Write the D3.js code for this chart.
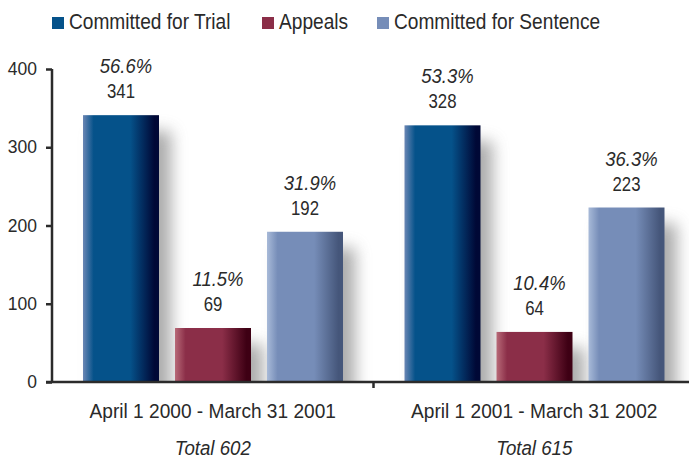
<!DOCTYPE html>
<html>
<head>
<meta charset="utf-8">
<script src="https://cdn.jsdelivr.net/npm/d3@7"></script>
<style>
  body { margin: 0; background: #fff; }
  svg { display: block; font-family: "Liberation Sans", Arial, sans-serif; }
  .domain, .tick line { stroke: #2b2b2b; }
</style>
</head>
<body>
<div id="Chart"></div>
<script>
// Data
const periods = ["April 1 2000 - March 31 2001", "April 1 2001 - March 31 2002"];
const totals = ["Total 602", "Total 615"];
const seriesNames = ["Committed for Trial", "Appeals", "Committed for Sentence"];
const trialValues = [341, 328];
const appealValues = [69, 64];
const sentenceValues = [192, 223];
const trialPercents = ["56.6%", "53.3%"];
const appealPercents = ["11.5%", "10.4%"];
const sentencePercents = ["31.9%", "36.3%"];
const yTicks = [0, 100, 200, 300, 400];

const Colors = ["#05528a", "#8b2e48", "#768db8"];
// left highlight, body, right shade for each series
const Shades = [
    ["#6a86b4", "#05528a", "#000836"],
    ["#b86a78", "#8b2e48", "#3e0014"],
    ["#a8bad8", "#768db8", "#45567a"]
];

const Values = [trialValues, appealValues, sentenceValues];
const Percents = [trialPercents, appealPercents, sentencePercents];

const Width = 689, Height = 461;
const Left = 52, Top = 69, Bottom = 382;

// The reference uses a condensed face; squeeze a regular one horizontally
function squeeze(sel, x, y, sx)
{
    sel.attr("transform", (d, i) => {
        let xx = typeof x == "function" ? x(d, i) : x;
        let yy = typeof y == "function" ? y(d, i) : y;
        return `translate(${xx},${yy}) scale(${sx},1)`;
    });
}

const Svg = d3.select("#Chart").append("svg")
    .attr("width", Width).attr("height", Height);

const Defs = Svg.append("defs");
Shades.forEach((s, i) => {
    let g = Defs.append("linearGradient").attr("id", `Grad${i}`)
        .attr("x1", "0%").attr("x2", "100%").attr("y1", "0%").attr("y2", "0%");
    g.append("stop").attr("offset", "0%").attr("stop-color", s[0]);
    g.append("stop").attr("offset", "14%").attr("stop-color", s[1]);
    g.append("stop").attr("offset", "62%").attr("stop-color", s[1]);
    g.append("stop").attr("offset", "94%").attr("stop-color", s[2]);
    g.append("stop").attr("offset", "100%").attr("stop-color", s[2]);
});
let Blur = Defs.append("filter").attr("id", "Soft")
    .attr("x", "-100%").attr("y", "-50%").attr("width", "300%").attr("height", "200%");
Blur.append("feGaussianBlur").attr("stdDeviation", 8);
Defs.append("clipPath").attr("id", "PlotClip").append("rect")
    .attr("x", Left).attr("y", 0).attr("width", Width - Left).attr("height", Bottom);

const ScaleY = d3.scaleLinear().domain([0, 400]).range([Bottom, Top]);
const ScaleX0 = d3.scaleBand().domain(periods).range([Left, 695]);
const ScaleX1 = d3.scaleBand().domain(seriesNames).range([31, 291]).paddingInner(0.174);

const Data = periods.map((p, pi) => seriesNames.map((s, si) => ({
    period: p, series: s, si: si, value: Values[si][pi], pct: Percents[si][pi]
})));

// Shadows behind the bars
let ShadowLayer = Svg.append("g").attr("clip-path", "url(#PlotClip)");
ShadowLayer.selectAll("g").data(Data).join("g")
    .attr("transform", d => `translate(${ScaleX0(d[0].period)},0)`)
    .selectAll("rect").data(d => d).join("rect")
    .attr("x", d => ScaleX1(d.series) + 12)
    .attr("y", d => ScaleY(d.value) + 16)
    .attr("width", ScaleX1.bandwidth())
    .attr("height", d => Bottom - ScaleY(d.value) + 10)
    .attr("fill", "#777").attr("opacity", 0.62)
    .attr("filter", "url(#Soft)");

// Bars
let Groups = Svg.append("g").selectAll("g").data(Data).join("g")
    .attr("transform", d => `translate(${ScaleX0(d[0].period)},0)`);
Groups.selectAll("rect").data(d => d).join("rect")
    .attr("x", d => ScaleX1(d.series))
    .attr("y", d => ScaleY(d.value))
    .attr("width", ScaleX1.bandwidth())
    .attr("height", d => Bottom - ScaleY(d.value))
    .attr("fill", d => `url(#Grad${d.si})`);

// Value and percentage labels
let Vals = Groups.selectAll("text.Val").data(d => d).join("text").attr("class", "Val")
    .attr("text-anchor", "middle").attr("font-size", 20).attr("fill", "#2a2a2a")
    .text(d => d.value);
squeeze(Vals, d => ScaleX1(d.series) + ScaleX1.bandwidth() / 2, d => ScaleY(d.value) - 17, 0.84);
let Pcts = Groups.selectAll("text.Pct").data(d => d).join("text").attr("class", "Pct")
    .attr("text-anchor", "middle").attr("font-size", 20.5).attr("font-style", "italic")
    .attr("fill", "#2a2a2a")
    .text(d => d.pct);
squeeze(Pcts, d => ScaleX1(d.series) + ScaleX1.bandwidth() / 2 + 5, d => ScaleY(d.value) - 42, 0.9);

// Y axis
let AxisY = d3.axisLeft(ScaleY).tickValues(yTicks).tickSize(6).tickPadding(9);
let GY = Svg.append("g").attr("transform", `translate(${Left},0)`).call(AxisY);
GY.select(".domain").attr("d", `M0,${Top}V${Bottom}`).attr("stroke-width", 2.5);
GY.selectAll(".tick line").attr("stroke-width", 2.5);
GY.selectAll(".tick text").attr("font-size", 17.5).attr("fill", "#2a2a2a")
    .attr("font-family", "Liberation Sans, sans-serif");

// X axis
let AxisX = d3.axisBottom(ScaleX0).tickSize(0).tickFormat("");
let GX = Svg.append("g").attr("transform", `translate(0,${Bottom})`).call(AxisX);
GX.select(".domain").attr("d", `M${Left - 6},0H${Width}`).attr("stroke-width", 2.5);
GX.append("line")
    .attr("x1", ScaleX0(periods[1])).attr("x2", ScaleX0(periods[1]))
    .attr("y1", 0).attr("y2", 6).attr("stroke", "#2b2b2b").attr("stroke-width", 2.5);

let Cats = Svg.append("g").selectAll("text").data(periods).join("text")
    .attr("text-anchor", "middle")
    .attr("font-size", 21).attr("fill", "#2a2a2a")
    .text(d => d);
squeeze(Cats, d => ScaleX0(d) + ScaleX0.bandwidth() / 2, 418, 0.91);
let Tots = Svg.append("g").selectAll("text").data(totals).join("text")
    .attr("text-anchor", "middle")
    .attr("font-size", 21).attr("font-style", "italic").attr("fill", "#2a2a2a")
    .text(d => d);
squeeze(Tots, (d, i) => ScaleX0(periods[i]) + ScaleX0.bandwidth() / 2, 455, 0.89);

// Legend
const LegendX = [52, 262, 377];
let Legend = Svg.append("g").selectAll("g").data(seriesNames).join("g")
    .attr("transform", (d, i) => `translate(${LegendX[i]},17)`);
Legend.append("rect").attr("width", 12).attr("height", 12)
    .attr("fill", (d, i) => Colors[i]);
let LegendText = Legend.append("text")
    .attr("font-size", 22.5).attr("fill", "#2a2a2a")
    .text(d => d);
squeeze(LegendText, 17, 12, 0.85);
</script>
</body>
</html>
